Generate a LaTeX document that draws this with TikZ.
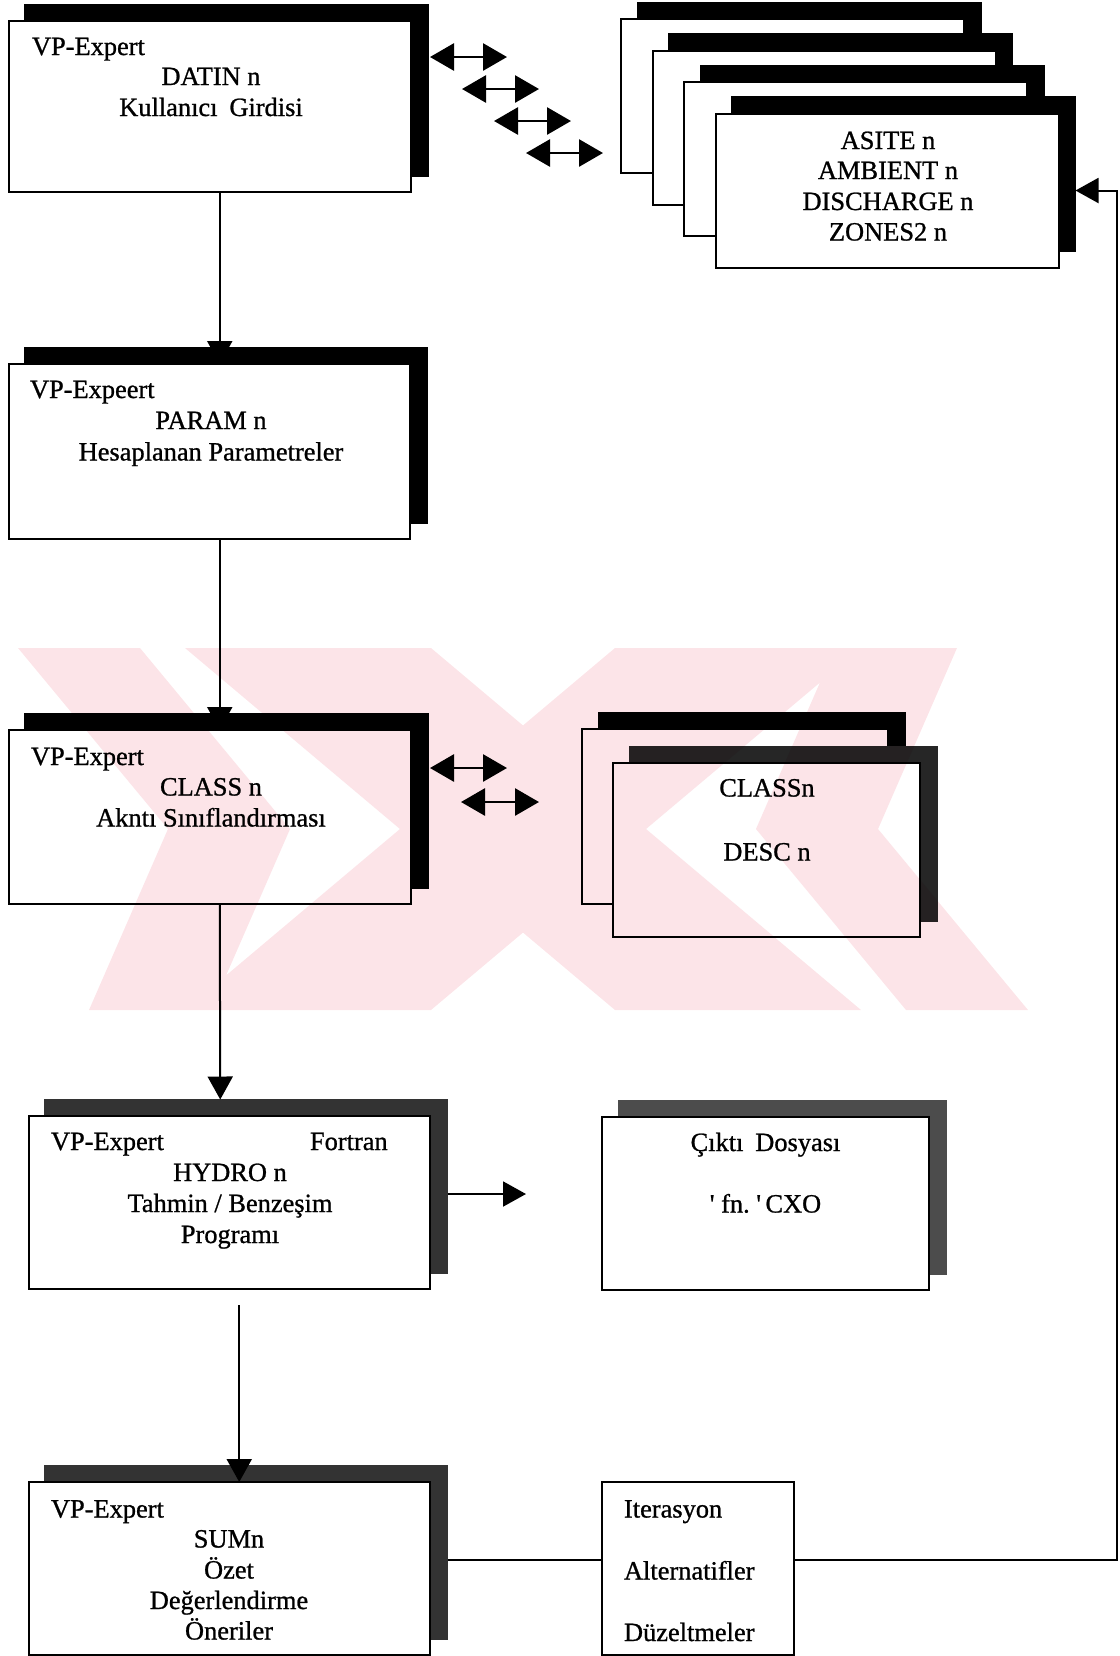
\documentclass[tikz,border=0pt]{standalone}
\usepackage{fontspec}
\setmainfont{Liberation Serif}[FakeBold=0.9]
\usetikzlibrary{arrows.meta,shadows}
\definecolor{wmpink}{RGB}{252,228,232}

\tikzset{every picture/.style={line width=1pt}}
\tikzset{
  box/.style={rectangle, draw=black, fill=white, line width=1pt, inner sep=0pt, outer sep=0pt},
  shadowbox/.style={box, copy shadow={shadow xshift=8.25pt, shadow yshift=8.25pt, fill=#1, draw=#1}},
  shadowbox/.default=black,
  lbl/.style={font=\fontsize{13.2}{15}\selectfont, inner sep=0pt, anchor=base},
  lbll/.style={lbl, anchor=base west},
  link/.style={line width=1pt, -{Triangle[length=11.5pt,width=12.5pt]}},
  dblarrow/.style={line width=1.4pt, {Triangle[length=12pt,width=13.5pt]}-{Triangle[length=12pt,width=13.5pt]}},
  wmband/.style={fill=wmpink, draw=none},
}

\begin{document}
\begin{tikzpicture}[x=0.5pt,y=0.5pt,yscale=-1,xscale=1]
	\useasboundingbox (0,0) rectangle (1120,1656);

	%Shape: Rectangle [datin]
	\node [shadowbox, minimum width=201.25pt, minimum height=85.5pt] (datin) at (209.75,106.5) {};
	%Shape: Rectangle [dos stack]
	\foreach \i/\nm in {0/dosa,1/dosb,2/dosc}
		\node [shadowbox, minimum width=171.5pt, minimum height=77pt] (\nm) at (792.5+31.5*\i,96+31.5*\i) {};
	\node [shadowbox, minimum width=171.5pt, minimum height=77pt] (asite) at (887,190.5) {};
	%Shape: Rectangle [param]
	\node [shadowbox, minimum width=200.75pt, minimum height=87.5pt] (param) at (209.25,451.5) {};
	%Shape: Rectangle [class]
	\node [shadowbox, minimum width=201.25pt, minimum height=87pt] (class) at (209.75,817) {};
	%Shape: Rectangle [classn stack]
	\node [shadowbox, minimum width=153pt, minimum height=87.5pt] (classb) at (735,816.5) {};
	\node [shadowbox=black!85, minimum width=153.5pt, minimum height=87pt] (classn) at (766.5,850) {};
	%Shape: Rectangle [hydro]
	\node [shadowbox=black!80, minimum width=200.75pt, minimum height=86.5pt] (hydro) at (229.25,1202.5) {};
	%Shape: Rectangle [cikti]
	\node [shadowbox=black!70, minimum width=163.5pt, minimum height=86.5pt] (cikti) at (765.5,1203.5) {};
	%Shape: Rectangle [sum]
	\node [shadowbox=black!80, minimum width=200.75pt, minimum height=86.5pt] (sum) at (229.25,1568.5) {};
	%Shape: Rectangle [iter]
	\node [box, minimum width=96pt, minimum height=86.5pt] (iter) at (698,1568.5) {};

	%Straight Lines [downward links]
	\draw [link] ([xshift=5pt]datin.south) -- ([xshift=5.25pt]param.north);
	\draw [link] ([xshift=5.25pt]param.south) -- ([xshift=5pt]class.north);
	\draw [link] ([xshift=5pt]class.south) -- ([xshift=-4.5pt,yshift=-8.25pt]hydro.north);
	\draw [link] ([xshift=5pt,yshift=8pt]hydro.south) -- ([xshift=5pt]sum.north);
	%Straight Lines [output]
	\coordinate (outtip) at (526,1194);
	\draw [link] ([xshift=8.75pt,yshift=-4.25pt]hydro.east) -- (outtip);
	%Straight Lines [feedback]
	\coordinate (fbbot) at (1117,1559.5);
	\coordinate (fbtop) at (1117,190.5);
	\draw ([xshift=8.75pt,yshift=-4.5pt]sum.east) -- ([yshift=-4.5pt]iter.west);
	\draw [link] ([yshift=-4.5pt]iter.east) -- (fbbot) -- (fbtop) -- ([xshift=8.5pt]asite.east);
	%Straight Lines [exchange arrows]
	\foreach \i in {0,...,3} {
		\coordinate (dl\i) at (430+32*\i,57+32*\i);
		\coordinate (dr\i) at (507+32*\i,57+32*\i);
		\draw [dblarrow] (dl\i) -- (dr\i);
	}
	\coordinate (cl0) at (430,768);
	\coordinate (cr0) at (507,768);
	\coordinate (cl1) at (461,802);
	\coordinate (cr1) at (539,802);
	\draw [dblarrow] (cl0) -- (cr0);
	\draw [dblarrow] (cl1) -- (cr1);

	% Text Node
	\node [lbll] (t1a) at (31,55) {VP-Expert};
	\node [lbl] (t1b) at (211,85) {DATIN n};
	\node [lbl] (t1c) at (211,116) {Kullanıcı\hspace{0.45em}Girdisi};
	% Text Node
	\node [lbl] (t2a) at (888,149) {ASITE n};
	\node [lbl] (t2b) at (888,179) {AMBIENT n};
	\node [lbl] (t2c) at (888,210) {DISCHARGE n};
	\node [lbl] (t2d) at (888,240.5) {ZONES2 n};
	% Text Node
	\node [lbll] (t3a) at (29,398) {VP-Expeert};
	\node [lbl] (t3b) at (211,429) {PARAM n};
	\node [lbl] (t3c) at (211,460.5) {Hesaplanan Parametreler};
	% Text Node
	\node [lbll] (t4a) at (30,765) {VP-Expert};
	\node [lbl] (t4b) at (211,795.5) {CLASS n};
	\node [lbl] (t4c) at (211,826.5) {Akntı Sınıflandırması};
	% Text Node
	\node [lbl] (t5a) at (767,796.5) {CLASSn};
	\node [lbl] (t5b) at (767,860.5) {DESC n};
	% Text Node
	\node [lbll] (t6a) at (50,1150) {VP-Expert};
	\node [lbll] (t6b) at (309,1150) {Fortran};
	\node [lbl] (t6c) at (230,1181) {HYDRO n};
	\node [lbl] (t6d) at (230,1212) {Tahmin / Benzeşim};
	\node [lbl] (t6e) at (230,1243) {Programı};
	% Text Node
	\node [lbl] (t7a) at (765.5,1151) {Çıktı\hspace{0.45em}Dosyası};
	\node [lbl] (t7b) at (765.5,1212.5) {\textquotesingle\ fn.\ \textquotesingle\,CXO};
	% Text Node
	\node [lbll] (t8a) at (50,1517.5) {VP-Expert};
	\node [lbl] (t8b) at (229,1547.5) {SUMn};
	\node [lbl] (t8c) at (229,1578.5) {Özet};
	\node [lbl] (t8d) at (229,1609) {Değerlendirme};
	\node [lbl] (t8e) at (229,1639.5) {Öneriler};
	% Text Node
	\node [lbll] (t9a) at (623,1517.5) {Iterasyon};
	\node [lbll] (t9b) at (623,1579.5) {Alternatifler};
	\node [lbll] (t9c) at (623,1641) {Düzeltmeler};

	%Shape: Watermark
	\begin{scope}[blend mode=multiply]
	\fill [wmband] (18,648) -- (140,648) -- (290,829) -- (211,1010) -- (89,1010) -- (168,829) -- cycle
		(1028,1010) -- (906,1010) -- (756,829) -- (835,648) -- (957,648) -- (878,829) -- cycle
		(185,648) -- (431,648) -- (861,1010) -- (615,1010) -- cycle
		(615,648) -- (861,648) -- (431,1010) -- (185,1010) -- cycle ;
	\end{scope}

\end{tikzpicture}
\end{document}
